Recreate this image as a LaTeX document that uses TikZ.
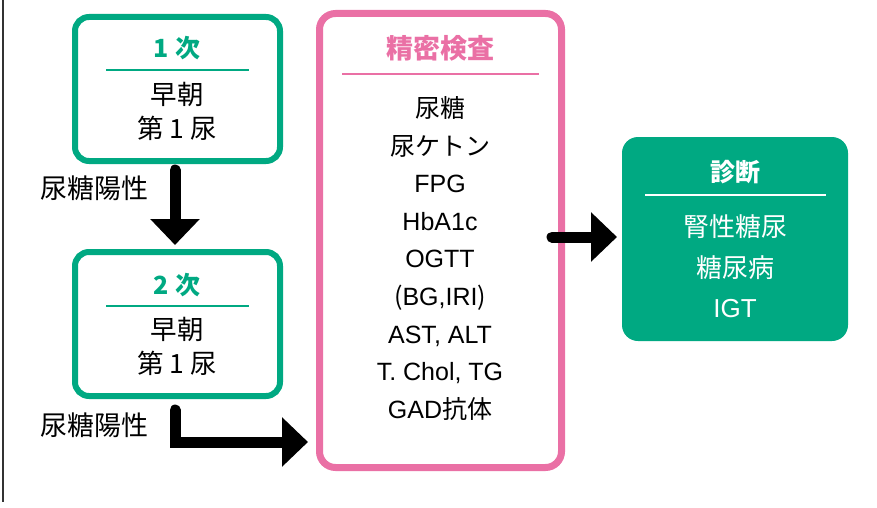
\documentclass[tikz,border=0pt]{standalone}
\usepackage{fontspec}
\setmainfont{Noto Sans CJK JP}
\newfontfamily\lat{Liberation Sans}
\usetikzlibrary{arrows.meta}
\definecolor{mygreen}{HTML}{00A982}
\definecolor{mypink}{HTML}{EA70A5}
\tikzset{
  greenbox/.style={draw=mygreen, line width=6pt, rounded corners=14pt, minimum width=205pt, minimum height=144pt},
  pinkbox/.style={draw=mypink, line width=7pt, rounded corners=16pt, minimum width=242pt, minimum height=454pt},
  diagbox/.style={fill=mygreen, rounded corners=16pt, minimum width=226pt, minimum height=204pt},
  txt/.style={inner sep=0pt, font=\fontsize{26.5}{34}\selectfont, align=center},
  ttl/.style={inner sep=0pt, font=\fontsize{25}{28}\selectfont\bfseries},
  bigarrow/.style={line width=11pt, line cap=round, -{Triangle[width=48pt,length=26pt]}},
}
\begin{document}
\begin{tikzpicture}[x=1pt,y=-1pt]
\useasboundingbox (0,0) rectangle (877,508);
\draw[line width=1.5pt, black!80] (3,0) -- (3,502);
% box 1
\node[greenbox] (b1) at (177.5,89) {};
\node[ttl, text=mygreen] (t1) at (177,48) {1\hspace{0.3em}次};
\draw[mygreen, line width=1.2pt] (106,70) -- (249,70);
\node[txt] (c1) at (177,111) {早朝\\第 1 尿};
\node[txt, font=\fontsize{27}{30}\selectfont] (l1) at (94,188) {尿糖陽性};
% box 2
\node[greenbox] (b2) at (177.5,324) {};
\node[ttl, text=mygreen] (t2) at (177,285) {2\hspace{0.3em}次};
\draw[mygreen, line width=1.2pt] (106,306) -- (249,306);
\node[txt] (c2) at (177,346.5) {早朝\\第 1 尿};
\node[txt, font=\fontsize{27}{30}\selectfont] (l2) at (94,425) {尿糖陽性};
% pink box
\node[pinkbox] (p) at (440.5,240.5) {};
\node[ttl, text=mypink, font=\fontsize{27}{30}\selectfont\bfseries] (pt) at (440,48) {精密検査};
\draw[mypink, line width=1.5pt] (342,74) -- (539,74);
\node[txt, font=\fontsize{25}{37.6}\selectfont] (pl) at (440,258.5) {尿糖\\尿ケトン\\{\lat FPG}\\{\lat HbA1c}\\{\lat OGTT}\\({\lat BG,IRI})\\{\lat AST, ALT}\\{\lat T. Chol, TG}\\{\lat GAD}抗体};
% diagnosis box
\node[diagbox] (d) at (735,239) {};
\node[ttl, text=white] (dt) at (735,172) {診断};
\draw[white, line width=1.5pt] (645,195) -- (826,195);
\node[txt, text=white, font=\fontsize{26}{40.5}\selectfont] (dl) at (735,266.5) {腎性糖尿\\糖尿病\\{\lat IGT}};
% arrows
\coordinate (a1s) at (175,170);
\coordinate (a1e) at (175,245);
\draw[bigarrow] (a1s) -- (a1e);
\coordinate (a2s) at (175,410);
\coordinate (a2e) at (308,442);
\draw[bigarrow, line join=miter] (a2s) |- (a2e);
\coordinate (a3s) at (552,237);
\coordinate (a3e) at (617,237);
\draw[bigarrow] (a3s) -- (a3e);
\end{tikzpicture}
\end{document}
